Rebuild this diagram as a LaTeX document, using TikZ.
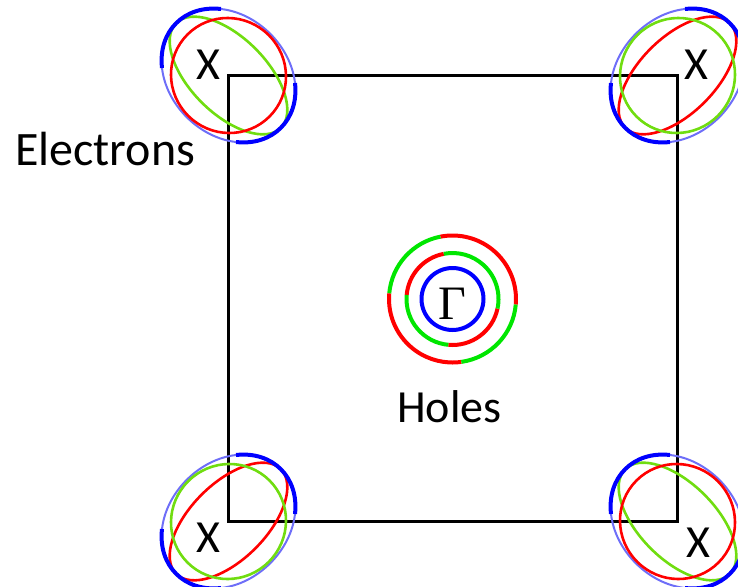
\documentclass[tikz,border=0pt]{standalone}
\usepackage{fontspec}
\setmainfont{Carlito}
\newfontfamily\greekfont{Liberation Serif}
\definecolor{cRed}  {HTML}{FF0000}
\definecolor{cGreen}{HTML}{00E600}
\definecolor{cLime} {HTML}{70DD10}
\definecolor{cBlue} {HTML}{0000FF}
\definecolor{cPale} {HTML}{6E6EF8}
\usetikzlibrary{calc}
\tikzset{
  lbl/.style  = {font=\fontsize{46}{50}\selectfont, inner sep=0pt},
  bz/.style   = {draw=black, line width=3pt, line join=miter},
  ring/.style = {line width=4pt},
  fs/.style   = {line width=2.6pt},
}

% one electron pocket: centre, rotation, elongated colour, round colour
\newcommand{\fspocket}[4]{%
  \begin{scope}[shift={(#1)}, rotate=#2]
    \draw[fs, draw=#3] (0,0) ellipse[x radius=74, y radius=38];
    \draw[fs, line width=2pt, draw=cPale] (0,0) ellipse[x radius=74, y radius=59];
    \draw[line width=4pt, draw=cBlue] (135:74 and 59)
          arc[start angle=135, end angle=225, x radius=74, y radius=59];
    \draw[line width=4pt, draw=cBlue] (-45:74 and 59)
          arc[start angle=-45, end angle=45, x radius=74, y radius=59];
    \draw[fs, draw=#4] (0,0) ellipse[x radius=58, y radius=57];
  \end{scope}}

\begin{document}
\begin{tikzpicture}[x=1pt, y=1pt]
  \useasboundingbox (0,0) rectangle (738,-586);

  %% Brillouin zone corners
  \coordinate (xtl) at (228.5,-75.5);
  \coordinate (xtr) at (677.5,-75.5);
  \coordinate (xbl) at (228.5,-521.5);
  \coordinate (xbr) at (677.5,-521.5);
  \coordinate (gam) at (452.5,-299);

  \draw[bz] (xtl) -- (xtr) -- (xbr) -- (xbl) -- cycle;

  %% Electron pockets at X
  \fspocket{xtl}{-45}{cLime}{cRed}
  \fspocket{xtr}{45}{cRed}{cLime}
  \fspocket{xbl}{45}{cRed}{cLime}
  \fspocket{xbr}{-45}{cLime}{cRed}

  %% Hole pockets at Gamma
  \draw[ring, cBlue] (gam) circle[radius=31];
  \draw[ring, cRed]   ($(gam)+(101:46)$) arc[start angle=101, end angle=175, radius=46];
  \draw[ring, cGreen] ($(gam)+(175:46)$) arc[start angle=175, end angle=265, radius=46];
  \draw[ring, cRed]   ($(gam)+(265:46)$) arc[start angle=265, end angle=348, radius=46];
  \draw[ring, cGreen] ($(gam)+(348:46)$) arc[start angle=348, end angle=461, radius=46];
  \draw[ring, cRed]   ($(gam)+(-5:63.5)$) arc[start angle=-5, end angle=101, radius=63.5];
  \draw[ring, cGreen] ($(gam)+(101:63.5)$) arc[start angle=101, end angle=175, radius=63.5];
  \draw[ring, cRed]   ($(gam)+(175:63.5)$) arc[start angle=175, end angle=278, radius=63.5];
  \draw[ring, cGreen] ($(gam)+(278:63.5)$) arc[start angle=278, end angle=355, radius=63.5];

  %% Labels
  \node[font=\greekfont\fontsize{48}{50}\selectfont, inner sep=0pt] (gl) at (452,-304) {Γ};
  \node[lbl] (ltl) at (208,-65)  {X};
  \node[lbl] (ltr) at (696,-65)  {X};
  \node[lbl] (lbl) at (208,-538) {X};
  \node[lbl] (lbr) at (698,-543) {X};
  \node[lbl, font=\fontsize{48}{52}\selectfont, anchor=base west] (elec)  at (15,-165)  {Electrons};
  \node[lbl, anchor=base west] (holes) at (397,-422) {Holes};
\end{tikzpicture}
\end{document}
